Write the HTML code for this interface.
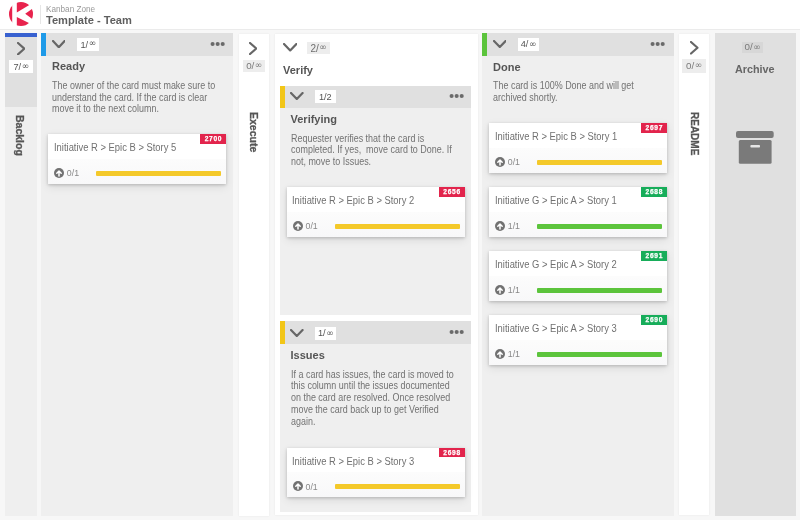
<!DOCTYPE html><html><head><meta charset="utf-8"><style>
*{margin:0;padding:0;box-sizing:border-box}
html,body{width:800px;height:520px;overflow:hidden}
body{background:#f7f7f7;font-family:"Liberation Sans",Arial,sans-serif;position:relative}
.hdr{position:absolute;left:0;top:0;width:800px;height:29px;background:#fff}
.t{position:absolute;white-space:nowrap}
.desc{position:absolute;font-size:10px;line-height:11.85px;color:#727272;white-space:nowrap;transform:scaleX(0.895);transform-origin:0 0}
.badge{position:absolute;text-align:center;padding-left:0.6px;white-space:nowrap;font-family:"Liberation Sans",sans-serif}
.badge .inf{font-size:9px;font-family:"DejaVu Sans",sans-serif;vertical-align:top;position:relative;top:1.6px;margin-left:0.5px;line-height:1}
.vt{position:absolute;writing-mode:vertical-rl;font-weight:700;color:#555;white-space:nowrap;line-height:10px;-webkit-text-stroke:0.3px #555}
.card{position:absolute;background:#fff;box-shadow:0 1px 3px rgba(0,0,0,0.2),0 3px 9px rgba(0,0,0,0.09);overflow:hidden}
.cfoot{position:absolute;left:0;right:0;top:24.5px;bottom:0;background:linear-gradient(#fcfcfc,#f8f8f9)}
.ctitle{position:absolute;left:5.9px;top:8px;font-size:10px;line-height:11px;color:#717171;white-space:nowrap;transform:scaleX(0.94);transform-origin:0 0}
.cnum{position:absolute;right:0;top:0;width:26.5px;height:9.5px;color:#fff;font-size:6.6px;font-weight:700;line-height:9.8px;text-align:center;letter-spacing:0.7px;padding-left:0.7px;-webkit-text-stroke:0.25px #fff}
.cicon{position:absolute;left:6px;top:33.5px}
.cprog{position:absolute;left:19px;top:34px;font-size:8.8px;line-height:10px;color:#888}
.cbar{position:absolute;left:48.7px;right:5px;top:36.9px;height:4.7px;border-radius:1px}
</style></head><body><div class="hdr"></div><svg style="position:absolute;left:0;top:0" width="40" height="29" viewBox="0 0 40 29"><defs><clipPath id="cc"><circle cx="21" cy="14" r="12"/></clipPath></defs><g clip-path="url(#cc)" fill="#e8234d"><rect x="0" y="0" width="12.2" height="29"/><polygon points="16.8,-2 16.8,12.4 40,-1.5 40,-2"/><polygon points="25.2,13.7 40,3.3 40,24.5"/><polygon points="16.8,17 40,28.6 40,30 16.8,30"/></g></svg>
<div style="position:absolute;left:39.5px;top:5px;width:1px;height:19px;background:#e6e6e6;"></div>
<div class="t " style="left:46px;top:4.63px;font-size:8.2px;line-height:10.66px;color:#999;font-weight:400;">Kanban Zone</div>
<div class="t " style="left:46px;top:12.69px;font-size:11.1px;line-height:14.43px;color:#5f5f5f;font-weight:700;">Template - Team</div>
<div style="position:absolute;left:0px;top:28.5px;width:800px;height:1px;background:#ebebeb;"></div>
<div style="position:absolute;left:5px;top:33px;width:31.5px;height:482.5px;background:#efefef;"></div>
<div style="position:absolute;left:5px;top:37px;width:31.5px;height:70px;background:#e0e0e0;"></div>
<div style="position:absolute;left:5px;top:33px;width:31.5px;height:4px;background:#3861d0;"></div>
<svg style="position:absolute;left:17.2px;top:41.7px" width="8.3" height="13.4" viewBox="0 0 8.3 13.4"><polyline points="1,1 7.300000000000001,6.7 1,12.4" fill="none" stroke="#666" stroke-width="2.2" stroke-linecap="round" stroke-linejoin="round"/></svg>
<div class="badge" style="left:9px;top:60px;width:24px;height:13px;background:#fff;color:#555;font-size:9.2px;line-height:14.40px">7/<span class="inf">∞</span></div>
<div class="vt" style="left:14.5px;top:114.5px;font-size:10.5px">Backlog</div>
<div style="position:absolute;left:41px;top:33px;width:191.5px;height:482.5px;background:#efefef;"></div>
<div style="position:absolute;left:41px;top:33px;width:191.5px;height:22.5px;background:#e0e0e0;"></div>
<div style="position:absolute;left:41px;top:33px;width:4.5px;height:22.5px;background:#1e9ae8;"></div>
<svg style="position:absolute;left:51.6px;top:39.5px" width="13.6" height="8.2" viewBox="0 0 13.6 8.2"><polyline points="1,1 6.8,7.199999999999999 12.6,1" fill="none" stroke="#666" stroke-width="2.2" stroke-linecap="round" stroke-linejoin="round"/></svg>
<div class="badge" style="left:77px;top:37.5px;width:22px;height:13px;background:#fff;color:#555;font-size:9.2px;line-height:14.40px">1/<span class="inf">∞</span></div>
<svg style="position:absolute;left:209.6px;top:40.7px" width="16" height="6" viewBox="0 0 16 6"><circle cx="2.6" cy="3" r="2.05" fill="#6a6a6a"/><circle cx="7.65" cy="3" r="2.05" fill="#6a6a6a"/><circle cx="12.7" cy="3" r="2.05" fill="#6a6a6a"/></svg>
<div class="t " style="left:52px;top:59.44px;font-size:11px;line-height:14.3px;color:#555;font-weight:700;">Ready</div>
<div class="desc" style="left:52px;top:79.71px;width:180px">The owner of the card must make sure to<br>understand the card. If the card is clear<br>move it to the next column.</div>
<div class="card" style="left:47.8px;top:134.4px;width:178.5px;height:49.8px"><div class="cfoot"></div><div class="ctitle">Initiative R &gt; Epic B &gt; Story 5</div><div class="cnum" style="background:#e2244c">2700</div><svg class="cicon" width="10" height="10" viewBox="0 0 10 10"><circle cx="5" cy="5" r="5" fill="#727272"/><path d="M5 8V3M2.8 5.2L5 3l2.2 2.2" stroke="#fff" stroke-width="1.5" fill="none" stroke-linecap="round" stroke-linejoin="round"/></svg><div class="cprog">0/1</div><div class="cbar" style="background:#f4c92a"></div></div>
<div style="position:absolute;left:239px;top:33.5px;width:29.5px;height:482px;background:#fff;box-shadow:0 0 2px rgba(0,0,0,0.07)"></div>
<svg style="position:absolute;left:249.2px;top:41.5px" width="8.3" height="13" viewBox="0 0 8.3 13"><polyline points="1,1 7.300000000000001,6.5 1,12" fill="none" stroke="#666" stroke-width="2.2" stroke-linecap="round" stroke-linejoin="round"/></svg>
<div class="badge" style="left:243.3px;top:59.5px;width:21.3px;height:12.7px;background:#ededed;color:#7a7a7a;font-size:9.8px;line-height:12.30px">0/<span class="inf">∞</span></div>
<div class="vt" style="left:249px;top:112.1px;font-size:10.5px">Execute</div>
<div style="position:absolute;left:275px;top:34px;width:202.5px;height:480.5px;background:#fff;box-shadow:0 0 2px rgba(0,0,0,0.07)"></div>
<svg style="position:absolute;left:283px;top:43.4px" width="14.4" height="8.4" viewBox="0 0 14.4 8.4"><polyline points="1,1 7.2,7.4 13.4,1" fill="none" stroke="#666" stroke-width="2.2" stroke-linecap="round" stroke-linejoin="round"/></svg>
<div class="badge" style="left:307px;top:41.5px;width:22.5px;height:12.5px;background:#ededed;color:#6f6f6f;font-size:10px;line-height:13.90px">2/<span class="inf">∞</span></div>
<div class="t " style="left:283px;top:63.04px;font-size:11px;line-height:14.3px;color:#555;font-weight:700;">Verify</div>
<div style="position:absolute;left:280px;top:85.5px;width:191.25px;height:229.5px;background:#efefef;"></div>
<div style="position:absolute;left:280px;top:85.5px;width:191.25px;height:22px;background:#e0e0e0;"></div>
<div style="position:absolute;left:280px;top:85.5px;width:4.5px;height:22px;background:#f2c618;"></div>
<svg style="position:absolute;left:290px;top:92.3px" width="13.6" height="8" viewBox="0 0 13.6 8"><polyline points="1,1 6.8,7 12.6,1" fill="none" stroke="#666" stroke-width="2.2" stroke-linecap="round" stroke-linejoin="round"/></svg>
<div class="badge" style="left:314.5px;top:90px;width:21px;height:13px;background:#fff;color:#555;font-size:9.2px;line-height:14.40px">1/2</div>
<svg style="position:absolute;left:448.5px;top:93.1px" width="16" height="6" viewBox="0 0 16 6"><circle cx="2.6" cy="3" r="2.05" fill="#6a6a6a"/><circle cx="7.65" cy="3" r="2.05" fill="#6a6a6a"/><circle cx="12.7" cy="3" r="2.05" fill="#6a6a6a"/></svg>
<div class="t " style="left:290.5px;top:112.04px;font-size:11px;line-height:14.3px;color:#555;font-weight:700;">Verifying</div>
<div class="desc" style="left:290.5px;top:132.74px;width:180px;line-height:11.6px">Requester verifies that the card is<br>completed. If yes,&nbsp; move card to Done. If<br>not, move to Issues.</div>
<div class="card" style="left:286.5px;top:187.2px;width:178.5px;height:49.8px"><div class="cfoot"></div><div class="ctitle">Initiative R &gt; Epic B &gt; Story 2</div><div class="cnum" style="background:#e2244c">2656</div><svg class="cicon" width="10" height="10" viewBox="0 0 10 10"><circle cx="5" cy="5" r="5" fill="#727272"/><path d="M5 8V3M2.8 5.2L5 3l2.2 2.2" stroke="#fff" stroke-width="1.5" fill="none" stroke-linecap="round" stroke-linejoin="round"/></svg><div class="cprog">0/1</div><div class="cbar" style="background:#f4c92a"></div></div>
<div style="position:absolute;left:280px;top:321.25px;width:191.25px;height:190.25px;background:#efefef;"></div>
<div style="position:absolute;left:280px;top:321.25px;width:191.25px;height:22.5px;background:#e0e0e0;"></div>
<div style="position:absolute;left:280px;top:321.25px;width:4.5px;height:22.5px;background:#f2c618;"></div>
<svg style="position:absolute;left:290px;top:328.5px" width="13.6" height="8" viewBox="0 0 13.6 8"><polyline points="1,1 6.8,7 12.6,1" fill="none" stroke="#666" stroke-width="2.2" stroke-linecap="round" stroke-linejoin="round"/></svg>
<div class="badge" style="left:315px;top:327px;width:21px;height:12.5px;background:#fff;color:#555;font-size:9.2px;line-height:13.90px">1/<span class="inf">∞</span></div>
<svg style="position:absolute;left:448.5px;top:329px" width="16" height="6" viewBox="0 0 16 6"><circle cx="2.6" cy="3" r="2.05" fill="#6a6a6a"/><circle cx="7.65" cy="3" r="2.05" fill="#6a6a6a"/><circle cx="12.7" cy="3" r="2.05" fill="#6a6a6a"/></svg>
<div class="t " style="left:290.5px;top:347.79px;font-size:11px;line-height:14.3px;color:#555;font-weight:700;">Issues</div>
<div class="desc" style="left:290.5px;top:368.66px;width:180px;line-height:11.75px">If a card has issues, the card is moved to<br>this column until the issues documented<br>on the card are resolved. Once resolved<br>move the card back up to get Verified<br>again.</div>
<div class="card" style="left:286.5px;top:447.5px;width:178.5px;height:49.8px"><div class="cfoot"></div><div class="ctitle">Initiative R &gt; Epic B &gt; Story 3</div><div class="cnum" style="background:#e2244c">2698</div><svg class="cicon" width="10" height="10" viewBox="0 0 10 10"><circle cx="5" cy="5" r="5" fill="#727272"/><path d="M5 8V3M2.8 5.2L5 3l2.2 2.2" stroke="#fff" stroke-width="1.5" fill="none" stroke-linecap="round" stroke-linejoin="round"/></svg><div class="cprog">0/1</div><div class="cbar" style="background:#f4c92a"></div></div>
<div style="position:absolute;left:482px;top:33px;width:191.75px;height:482.5px;background:#efefef;"></div>
<div style="position:absolute;left:482px;top:33px;width:191.75px;height:22.5px;background:#e0e0e0;"></div>
<div style="position:absolute;left:482px;top:33px;width:4.5px;height:22.5px;background:#5cc43c;"></div>
<svg style="position:absolute;left:492.5px;top:40.3px" width="13.6" height="8" viewBox="0 0 13.6 8"><polyline points="1,1 6.8,7 12.6,1" fill="none" stroke="#666" stroke-width="2.2" stroke-linecap="round" stroke-linejoin="round"/></svg>
<div class="badge" style="left:517.5px;top:38px;width:21.5px;height:12.5px;background:#fff;color:#555;font-size:9.2px;line-height:13.90px">4/<span class="inf">∞</span></div>
<svg style="position:absolute;left:650.3px;top:40.6px" width="16" height="6" viewBox="0 0 16 6"><circle cx="2.6" cy="3" r="2.05" fill="#6a6a6a"/><circle cx="7.65" cy="3" r="2.05" fill="#6a6a6a"/><circle cx="12.7" cy="3" r="2.05" fill="#6a6a6a"/></svg>
<div class="t " style="left:493px;top:59.54px;font-size:11px;line-height:14.3px;color:#555;font-weight:700;">Done</div>
<div class="desc" style="left:493px;top:80.13px;width:180px;line-height:11.4px">The card is 100% Done and will get<br>archived shortly.</div>
<div class="card" style="left:488.75px;top:123px;width:178.5px;height:49.8px"><div class="cfoot"></div><div class="ctitle">Initiative R &gt; Epic B &gt; Story 1</div><div class="cnum" style="background:#e2244c">2697</div><svg class="cicon" width="10" height="10" viewBox="0 0 10 10"><circle cx="5" cy="5" r="5" fill="#727272"/><path d="M5 8V3M2.8 5.2L5 3l2.2 2.2" stroke="#fff" stroke-width="1.5" fill="none" stroke-linecap="round" stroke-linejoin="round"/></svg><div class="cprog">0/1</div><div class="cbar" style="background:#f4c92a"></div></div>
<div class="card" style="left:488.75px;top:187px;width:178.5px;height:49.8px"><div class="cfoot"></div><div class="ctitle">Initiative G &gt; Epic A &gt; Story 1</div><div class="cnum" style="background:#17ad5a">2688</div><svg class="cicon" width="10" height="10" viewBox="0 0 10 10"><circle cx="5" cy="5" r="5" fill="#727272"/><path d="M5 8V3M2.8 5.2L5 3l2.2 2.2" stroke="#fff" stroke-width="1.5" fill="none" stroke-linecap="round" stroke-linejoin="round"/></svg><div class="cprog">1/1</div><div class="cbar" style="background:#5cc43c"></div></div>
<div class="card" style="left:488.75px;top:251px;width:178.5px;height:49.8px"><div class="cfoot"></div><div class="ctitle">Initiative G &gt; Epic A &gt; Story 2</div><div class="cnum" style="background:#17ad5a">2691</div><svg class="cicon" width="10" height="10" viewBox="0 0 10 10"><circle cx="5" cy="5" r="5" fill="#727272"/><path d="M5 8V3M2.8 5.2L5 3l2.2 2.2" stroke="#fff" stroke-width="1.5" fill="none" stroke-linecap="round" stroke-linejoin="round"/></svg><div class="cprog">1/1</div><div class="cbar" style="background:#5cc43c"></div></div>
<div class="card" style="left:488.75px;top:315px;width:178.5px;height:49.8px"><div class="cfoot"></div><div class="ctitle">Initiative G &gt; Epic A &gt; Story 3</div><div class="cnum" style="background:#17ad5a">2690</div><svg class="cicon" width="10" height="10" viewBox="0 0 10 10"><circle cx="5" cy="5" r="5" fill="#727272"/><path d="M5 8V3M2.8 5.2L5 3l2.2 2.2" stroke="#fff" stroke-width="1.5" fill="none" stroke-linecap="round" stroke-linejoin="round"/></svg><div class="cprog">1/1</div><div class="cbar" style="background:#5cc43c"></div></div>
<div style="position:absolute;left:679.3px;top:33.8px;width:29.8px;height:481px;background:#fff;box-shadow:0 0 2px rgba(0,0,0,0.07)"></div>
<svg style="position:absolute;left:690px;top:41px" width="8.5" height="13.5" viewBox="0 0 8.5 13.5"><polyline points="1,1 7.5,6.75 1,12.5" fill="none" stroke="#666" stroke-width="2.2" stroke-linecap="round" stroke-linejoin="round"/></svg>
<div class="badge" style="left:682px;top:59px;width:23.8px;height:13.5px;background:#ededed;color:#7a7a7a;font-size:9.8px;line-height:14.90px">0/<span class="inf">∞</span></div>
<div class="vt" style="left:688.6px;top:112.1px;font-size:10px">README</div>
<div style="position:absolute;left:714.8px;top:33.4px;width:80.8px;height:482.8px;background:#e0e0e0;"></div>
<div class="badge" style="left:741.5px;top:41.8px;width:21.5px;height:11.6px;background:#d7d7d7;color:#7a7a7a;font-size:9.8px;line-height:10.40px">0/<span class="inf">∞</span></div>
<div class="t " style="left:735px;top:62.14px;font-size:10.8px;line-height:14.04px;color:#666;font-weight:700;">Archive</div>
<svg style="position:absolute;left:736px;top:130.5px" width="38" height="33" viewBox="0 0 38 33"><rect x="0" y="0" width="37.7" height="7" rx="2" fill="#7a7a7a"/><rect x="2.8" y="9" width="32.8" height="23.8" rx="1.5" fill="#7a7a7a"/><rect x="14.4" y="14" width="9.6" height="2.5" rx="0.8" fill="#e6e6e6"/></svg></body></html>
